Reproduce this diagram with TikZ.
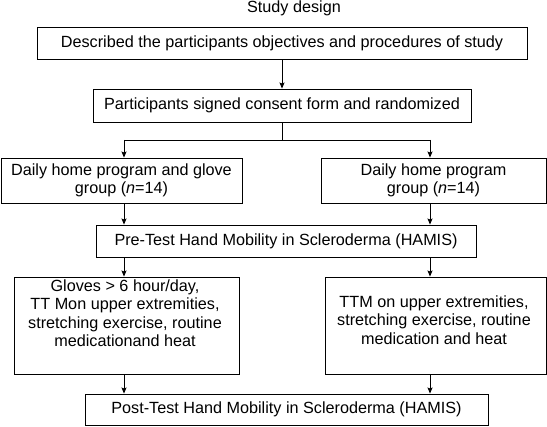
\documentclass[tikz,border=0pt]{standalone}
\usepackage{fontspec}
\setmainfont{Liberation Sans}
\usetikzlibrary{arrows.meta}
\tikzset{
  box/.style={draw=black, line width=0.9pt, inner sep=0pt, align=center},
  txt/.style={inner sep=0pt, align=center},
  arr/.style={line width=0.9pt, -{Stealth[length=6pt,width=5pt,inset=1pt]}},
  ln/.style={line width=0.9pt}
}
\begin{document}
\begin{tikzpicture}[x=1pt,y=-1pt,font=\fontsize{16.2}{18.5}\selectfont]
\useasboundingbox (0,0) rectangle (547,427);
\node[txt] (title) at (294,8) {Study design};
\node[box, minimum width=490pt, minimum height=32pt] (b1) at (282,43) {Described the participants objectives and procedures of study};
\node[box, minimum width=378pt, minimum height=33pt] (b2) at (282,105.5) {Participants signed consent form and randomized};
\node[box, minimum width=241pt, minimum height=45pt] (g1) at (121.5,180.5) {Daily home program and glove\\group (\textit{n}=14)};
\node[box, minimum width=225pt, minimum height=45pt] (g2) at (433.5,180.5) {Daily home program\\group (\textit{n}=14)};
\node[box, minimum width=380pt, minimum height=32pt] (pre) at (286,241) {Pre-Test Hand Mobility in Scleroderma (HAMIS)};
\node[box, minimum width=225pt, minimum height=97pt] (lb) at (126.5,325.5) {};
\node[txt] (lbt) at (125,313) {Gloves > 6 hour/day,\\TT Mon upper extremities,\\stretching exercise, routine\\medicationand heat};
\node[box, minimum width=221pt, minimum height=97pt] (rb) at (435.5,325.5) {};
\node[txt] (rbt) at (434,320) {TTM on upper extremities,\\stretching exercise, routine\\medication and heat};
\node[box, minimum width=403pt, minimum height=31pt] (post) at (286.5,409.5) {Post-Test Hand Mobility in Scleroderma (HAMIS)};
\coordinate (xl) at (124,0);
\coordinate (xr) at (430,0);
\coordinate (j) at (282,140);
\coordinate (jl) at (124,140);
\coordinate (jr) at (430,140);
\draw[arr] (b1.south -| b2.south) -- (b2.north);
\draw[ln] (b2.south -| j) -- (j);
\draw[ln] (jl) -- (jr);
\draw[arr] (jl) -- (g1.north -| jl);
\draw[arr] (jr) -- (g2.north -| jr);
\draw[arr] (g1.south -| xl) -- (pre.north -| xl);
\draw[arr] (g2.south -| xr) -- (pre.north -| xr);
\draw[arr] (pre.south -| xl) -- (lb.north -| xl);
\draw[arr] (pre.south -| xr) -- (rb.north -| xr);
\draw[arr] (lb.south -| xl) -- (post.north -| xl);
\draw[arr] (rb.south -| xr) -- (post.north -| xr);
\end{tikzpicture}
\end{document}
